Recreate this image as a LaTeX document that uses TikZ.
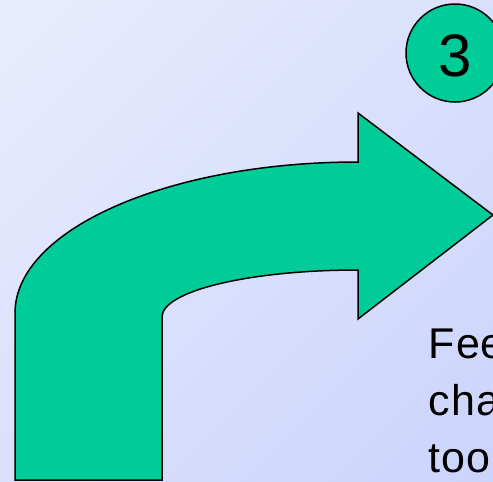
\documentclass[tikz,border=0pt]{standalone}
\usepackage{fontspec}
\setmainfont{Liberation Sans}
\newfontfamily\spacedsans[LetterSpace=2.5]{Liberation Sans}
\definecolor{arrowgreen}{RGB}{0,204,153}
\definecolor{bgtop}{RGB}{238,240,254}
\definecolor{bgbottom}{RGB}{198,208,250}
\tikzset{
  shapeline/.style={draw=black, line width=1.5pt, fill=arrowgreen, line join=miter},
  bodytext/.style={anchor=base west, inner sep=0pt, font=\spacedsans\fontsize{43}{57}\selectfont},
}
\begin{document}
\begin{tikzpicture}[x=1pt, y=-1pt]
  \useasboundingbox (0,0) rectangle (493,482);
  \clip (0,0) rectangle (493,482);
  \shade[top color=bgtop, bottom color=bgbottom, shading angle=45] (-200,-200) rectangle (693,682);
  % bent arrow
  \path[shapeline] (15,480) -- (15,313)
    .. controls (15,229.6) and (168.6,162) .. (358,162)
    -- (358,113) -- (493,215) -- (358,319) -- (358,270)
    .. controls (249.7,270) and (162,291) .. (162,317)
    -- (162,480) -- cycle;
  % numbered circle
  \node[circle, draw=black, line width=1.5pt, fill=arrowgreen, minimum size=98pt, inner sep=0pt] (badge) at (455,53) {};
  \node[anchor=base, inner sep=0pt, font=\fontsize{60}{72}\selectfont] (num) at (455.5,76) {3};
  % text
  \node[bodytext] (l1) at (428.5,358) {Fee};
  \node[bodytext] (l2) at (428.5,415) {cha};
  \node[bodytext] (l3) at (428.5,472.5) {too};
\end{tikzpicture}
\end{document}
